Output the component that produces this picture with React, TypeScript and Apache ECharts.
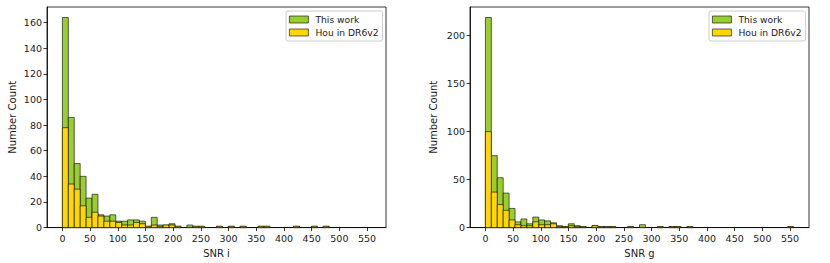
import React, { useEffect, useRef } from "react";
import * as echarts from "echarts";

// Histogram bins (shared by both panels)
const binWidth = 10.7;
const xTicks = [0, 50, 100, 150, 200, 250, 300, 350, 400, 450, 500, 550];
const yTicksI = [0, 20, 40, 60, 80, 100, 120, 140, 160];
const yTicksG = [0, 50, 100, 150, 200];
const seriesNames = ["This work", "Hou in DR6v2"];

// SNR i counts per bin
const snrIThisWork = [
  164, 86, 50, 40, 23, 26, 10, 9, 10, 5,
  5, 6, 6, 5, 1, 8, 2, 2, 3, 1,
  0, 2, 1, 1, 0, 0, 1, 0, 1, 0,
  1, 0, 0, 1, 1, 0, 0, 0, 0, 1,
  0, 0, 1, 0, 1, 0, 0, 0, 0, 0,
  0, 0,
];
const snrIHou = [
  78, 34, 30, 17, 8, 12, 9, 5, 5, 4,
  2, 2, 4, 3, 1, 2, 1, 2, 2, 1,
  0, 0, 1, 1, 0, 0, 1, 0, 1, 0,
  1, 0, 0, 1, 1, 0, 0, 0, 0, 1,
  0, 0, 1, 0, 1, 0, 0, 0, 0, 0,
  0, 0,
];

// SNR g counts per bin
const snrGThisWork = [
  219, 75, 52, 36, 20, 6, 9, 4, 11, 8,
  7, 5, 2, 1, 4, 2, 1, 0, 2, 1,
  1, 1, 0, 0, 1, 0, 3, 0, 0, 1,
  0, 1, 1, 0, 1, 0, 0, 0, 0, 0,
  0, 0, 0, 0, 0, 0, 0, 0, 0, 0,
  0, 1,
];
const snrGHou = [
  100, 37, 24, 18, 8, 3, 2, 2, 6, 3,
  3, 4, 1, 1, 2, 1, 1, 0, 2, 1,
  1, 1, 0, 0, 1, 0, 0, 0, 0, 1,
  0, 1, 1, 0, 1, 0, 0, 0, 0, 0,
  0, 0, 0, 0, 0, 0, 0, 0, 0, 0,
  0, 1,
];

const GREEN = "#9acd32";
const GOLD = "#ffd700";
const EDGE = "rgba(0,0,0,0.75)";
const FONT = "DejaVu Sans";
const TEXT = "#1a1a1a";

function toBins(counts: number[]) {
  return counts
    .map((c, i) => [i * binWidth, (i + 1) * binWidth, c])
    .filter((d) => d[2] > 0);
}

function makeRender(fill: string) {
  return (_params: any, api: any) => {
    const x0 = api.value(0);
    const x1 = api.value(1);
    const c = api.value(2);
    const p0 = api.coord([x0, c]);
    const p1 = api.coord([x1, 0]);
    return {
      type: "rect",
      shape: { x: p0[0], y: p0[1], width: p1[0] - p0[0], height: p1[1] - p0[1] },
      style: { fill, stroke: EDGE, lineWidth: 0.8 },
    };
  };
}

function xAxis(gridIndex: number, name: string) {
  return {
    type: "value",
    gridIndex,
    min: -27.8,
    max: 584.2,
    name,
    nameLocation: "middle",
    nameGap: 12.5,
    nameTextStyle: { fontFamily: FONT, fontSize: 10, color: TEXT },
    axisLine: { show: true, onZero: false, lineStyle: { color: "#000", width: 0.8 } },
    axisTick: { show: true, length: 3.5, customValues: xTicks, lineStyle: { color: "#000", width: 0.8 } },
    axisLabel: { customValues: xTicks, margin: 5.5, fontFamily: FONT, fontSize: 9.5, color: TEXT },
    splitLine: { show: false },
  };
}

function yAxis(gridIndex: number, max: number, ticks: number[], nameGap: number) {
  return {
    type: "value",
    gridIndex,
    min: 0,
    max,
    name: "Number Count",
    nameLocation: "middle",
    nameGap,
    nameTextStyle: { fontFamily: FONT, fontSize: 10, color: TEXT },
    axisLine: { show: true, onZero: false, lineStyle: { color: "#000", width: 0.8 } },
    axisTick: { show: true, length: 3.5, customValues: ticks, lineStyle: { color: "#000", width: 0.8 } },
    axisLabel: { customValues: ticks, margin: 5, fontFamily: FONT, fontSize: 9.5, color: TEXT },
    splitLine: { show: false },
  };
}

function legend(left: number) {
  return {
    left,
    top: 11,
    orient: "vertical",
    data: [
      { name: seriesNames[0], itemStyle: { color: GREEN, borderColor: EDGE, borderWidth: 0.8 } },
      { name: seriesNames[1], itemStyle: { color: GOLD, borderColor: EDGE, borderWidth: 0.8 } },
    ],
    icon: "rect",
    itemWidth: 19,
    itemHeight: 7,
    itemGap: 2,
    padding: [3, 4, 3, 3],
    borderColor: "#cccccc",
    borderWidth: 1,
    borderRadius: 2,
    backgroundColor: "#fff",
    selectedMode: false,
    textStyle: { fontFamily: FONT, fontSize: 9.2, color: TEXT, lineHeight: 11, padding: [0, 0, 0, 2] },
  };
}

function series(name: string, fill: string, counts: number[], idx: number) {
  return {
    type: "custom",
    name,
    xAxisIndex: idx,
    yAxisIndex: idx,
    data: toBins(counts),
    encode: { x: [0, 1], y: 2 },
    renderItem: makeRender(fill),
    itemStyle: { color: fill, borderColor: EDGE, borderWidth: 0.8 },
  };
}

export default function App() {
  const ref = useRef<HTMLDivElement>(null);
  useEffect(() => {
    if (!ref.current) return;
    const chart = echarts.init(ref.current, undefined, { renderer: "svg" });
    chart.setOption({
      animation: false,
      backgroundColor: "#fff",
      grid: [
        { left: 47, top: 7, width: 339, height: 221, show: true, borderColor: "#000", borderWidth: 0.8, backgroundColor: "transparent" },
        { left: 470, top: 7, width: 339, height: 221, show: true, borderColor: "#000", borderWidth: 0.8, backgroundColor: "transparent" },
      ],
      xAxis: [xAxis(0, "SNR i"), xAxis(1, "SNR g")],
      yAxis: [yAxis(0, 172.2, yTicksI, 30), yAxis(1, 229.95, yTicksG, 31.5)],
      legend: [legend(286), legend(709)],
      series: [
        series(seriesNames[0], GREEN, snrIThisWork, 0),
        series(seriesNames[1], GOLD, snrIHou, 0),
        series(seriesNames[0], GREEN, snrGThisWork, 1),
        series(seriesNames[1], GOLD, snrGHou, 1),
      ],
    });
    return () => chart.dispose();
  }, []);
  return (
    <div
      ref={ref}
      style={{ position: "absolute", left: 0, top: 0, width: 830, height: 263 }}
    />
  );
}
